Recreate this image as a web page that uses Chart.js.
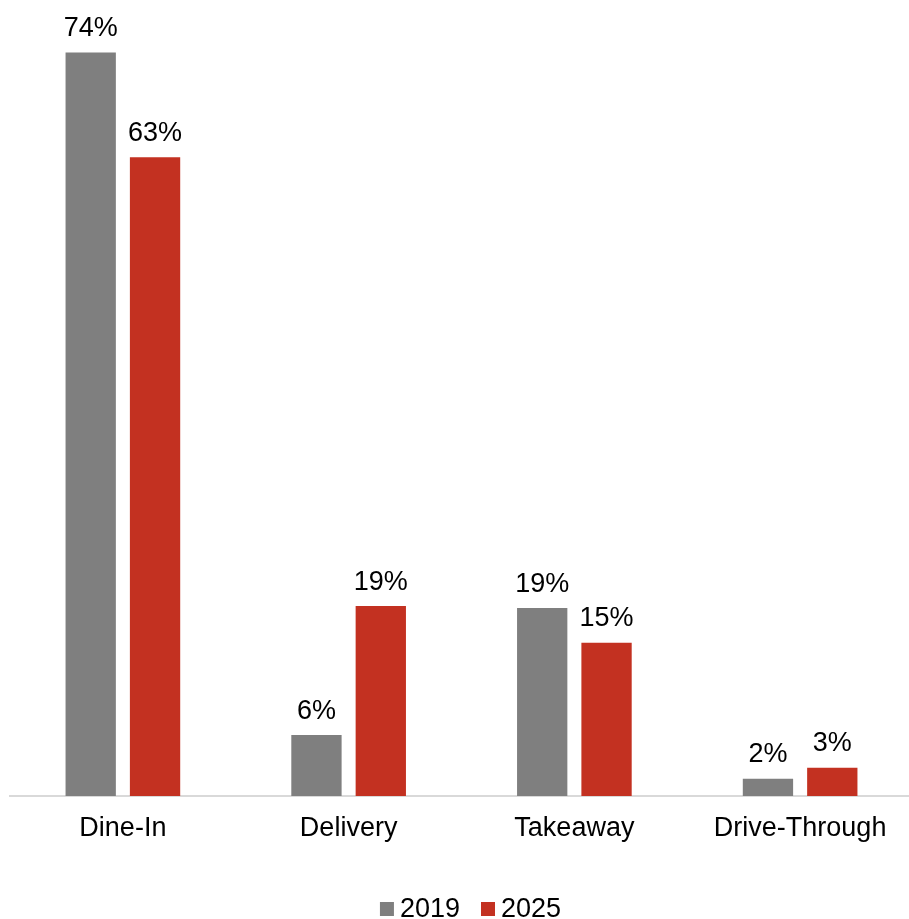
<!DOCTYPE html>
<html>
<head>
<meta charset="utf-8">
<script src="https://cdn.jsdelivr.net/npm/chart.js@4.4.1/dist/chart.umd.min.js"></script>
<style>
    html, body { margin : 0 ; padding : 0 ; background : #ffffff ; overflow : hidden ; }
    #wrap { width : 909px ; height : 919px ; overflow : hidden ; position : relative ; }
    #channelChart { position : absolute ; left : 0 ; top : 0 ; }
</style>
</head>
<body>
<div id="wrap">
    <canvas id="channelChart" width="913" height="919"></canvas>
</div>
<script>
    // ---------------- Data ---------------------------------------------------
    const CATEGORIES   = [ "Dine-In", "Delivery", "Takeaway", "Drive-Through" ] ;
    const SERIES_NAMES = [ "2019", "2025" ] ;
    const VALUES_2019  = [ 73.8, 6.05, 18.65, 1.7 ] ;
    const VALUES_2025  = [ 63.4, 18.85, 15.2, 2.8 ] ;

    // ---------------- Constants ----------------------------------------------
    const FONT_FAMILY = "'Liberation Sans', Arial, sans-serif" ;
    const FONT_SIZE   = 27 ;
    const GRAY        = '#7f7f7f' ;
    const RED         = '#c33121' ;

    // Value labels over every bar
    const valueLabelPlugin = {
        id : 'valueLabels',
        afterDatasetsDraw : function( chart ) {
            var ctx = chart.ctx ;
            ctx.save() ;
            ctx.font = FONT_SIZE + "px " + FONT_FAMILY ;
            ctx.fillStyle = '#000000' ;
            ctx.textAlign = 'center' ;
            ctx.textBaseline = 'alphabetic' ;
            chart.data.datasets.forEach( function( ds, i ) {
                var meta = chart.getDatasetMeta( i ) ;
                meta.data.forEach( function( bar, j ) {
                    ctx.fillText( Math.round( ds.data[j] ) + '%', bar.x, bar.y - 16.5 ) ;
                } ) ;
            } ) ;
            ctx.restore() ;
        }
    } ;

    // Legend drawn by hand so the box / text spacing matches
    const bottomLegendPlugin = {
        id : 'bottomLegend',
        afterDraw : function( chart ) {
            var ctx = chart.ctx ;
            var box = 14, boxGap = 6, itemGap = 21 ;
            ctx.save() ;
            ctx.font = FONT_SIZE + "px " + FONT_FAMILY ;
            ctx.textBaseline = 'alphabetic' ;
            ctx.textAlign = 'left' ;

            var items = chart.data.datasets.map( function( ds ) {
                return { text : ds.label, color : ds.backgroundColor,
                         w : box + boxGap + ctx.measureText( ds.label ).width } ;
            } ) ;
            var total = items.reduce( function( s, it ) { return s + it.w ; }, 0 ) + itemGap * ( items.length - 1 ) ;
            var x = 470.5 - total / 2 ;
            var baseline = 917 ;

            items.forEach( function( it ) {
                ctx.fillStyle = it.color ;
                ctx.fillRect( x, baseline - 15, box, box ) ;
                ctx.fillStyle = '#000000' ;
                ctx.fillText( it.text, x + box + boxGap, baseline ) ;
                x += it.w + itemGap ;
            } ) ;
            ctx.restore() ;
        }
    } ;

    var canvas = document.getElementById( 'channelChart' ) ;
    var chart = new Chart( canvas, {
        type : 'bar',
        data : {
            labels : CATEGORIES,
            datasets : [
                {
                    label              : SERIES_NAMES[0],
                    data               : VALUES_2019,
                    backgroundColor    : GRAY,
                    borderWidth        : 0,
                    barPercentage      : 0.782,
                    categoryPercentage : 0.57
                },
                {
                    label              : SERIES_NAMES[1],
                    data               : VALUES_2025,
                    backgroundColor    : RED,
                    borderWidth        : 0,
                    barPercentage      : 0.782,
                    categoryPercentage : 0.57
                }
            ]
        },
        options : {
            responsive : false,
            animation : false,
            layout : { padding : { left : 10, right : 0, top : 0, bottom : 0 } },
            plugins : {
                legend : { display : false },
                tooltip : { enabled : false }
            },
            scales : {
                x : {
                    grid : { display : false, drawTicks : false },
                    border : { display : true, color : '#d9d9d9', width : 2 },
                    ticks : {
                        color : '#000000',
                        padding : 16,
                        font : { family : FONT_FAMILY, size : FONT_SIZE }
                    },
                    afterFit : function( scale ) { scale.height = 123 ; }
                },
                y : {
                    display : false,
                    min : 0,
                    max : 79
                }
            }
        },
        plugins : [ valueLabelPlugin, bottomLegendPlugin ]
    } ) ;
</script>
</body>
</html>
